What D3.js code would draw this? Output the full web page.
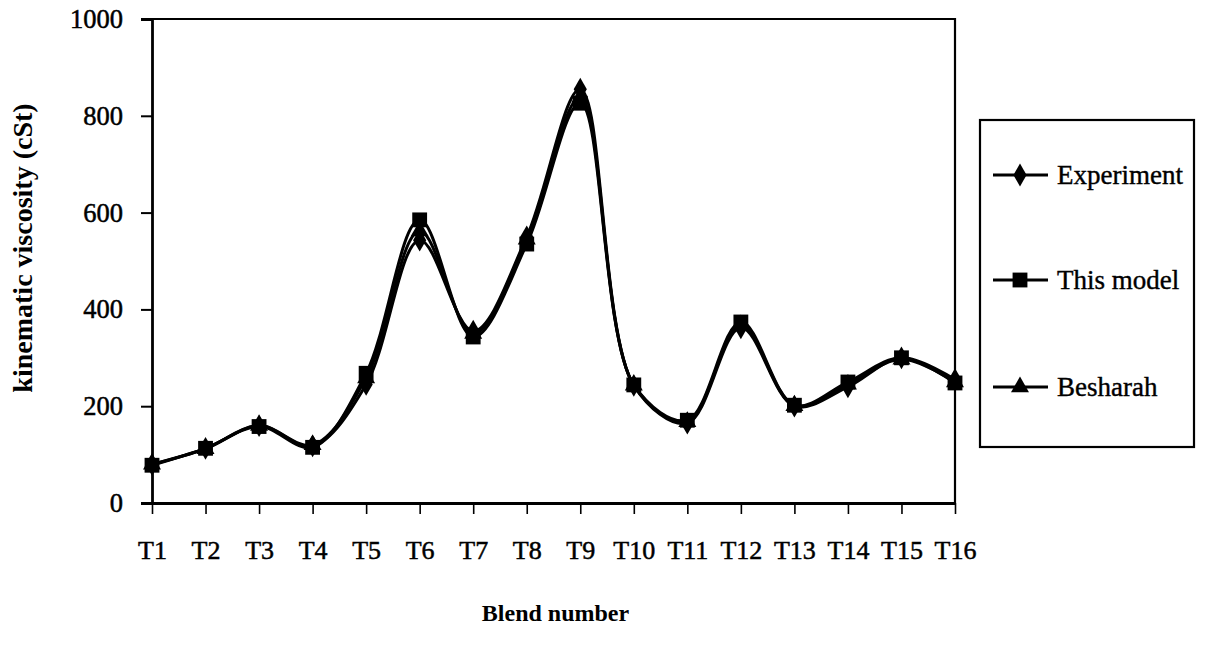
<!DOCTYPE html>
<html><head><meta charset="utf-8">
<script src="https://cdn.jsdelivr.net/npm/d3@7"></script>
<style>
body{margin:0;background:#fff;}
svg{display:block;}
text{font-family:"Liberation Serif","Times New Roman",serif;fill:#000;}
</style></head>
<body><svg id="c" width="1208" height="661"></svg>
<script>
const categories = ["T1","T2","T3","T4","T5","T6","T7","T8","T9","T10","T11","T12","T13","T14","T15","T16"];
const experiment = [80,113,160,118,245,543,355,550,855,243,165,362,200,240,300,255];
const thisModel  = [78,113,158,115,268,585,343,535,826,244,171,374,202,250,300,248];
const besharah   = [80,112,160,120,258,562,350,545,838,243,168,368,201,245,297,250];
const yTicks = [0,200,400,600,800,1000];
const seriesNames = ["Experiment","This model","Besharah"];

const svg = d3.select("#c");
const x0 = 152, x1 = 955, yTop = 19, yBot = 503;
const x = d3.scalePoint().domain(categories).range([x0, x1]);
const y = d3.scaleLinear().domain([0,1000]).range([yBot, yTop]);

// plot frame (top and right)
svg.append("path").attr("d", `M${x0},${yTop}H${x1}V${yBot}`).attr("fill","none").attr("stroke","#000").attr("stroke-width",2.2);

// Y axis
const yAxis = svg.append("g").attr("transform",`translate(${x0},0)`)
  .call(d3.axisLeft(y).tickValues(yTicks).tickSize(11).tickPadding(18).tickFormat(d3.format("d")));
yAxis.select(".domain").attr("stroke-width",2.8);
yAxis.selectAll(".tick line").attr("stroke-width",2);
yAxis.selectAll("text").attr("font-size",26.5).attr("font-family","Liberation Serif")
  .attr("stroke","#000").attr("stroke-width",0.5);

// X axis
const xAxis = svg.append("g").attr("transform",`translate(0,${yBot})`)
  .call(d3.axisBottom(x).tickSize(11).tickPadding(27).tickSizeOuter(0));
xAxis.select(".domain").attr("stroke-width",2.8);
xAxis.selectAll(".tick line").attr("stroke-width",1.6);
xAxis.selectAll("text").attr("font-size",26).attr("font-family","Liberation Serif")
  .attr("stroke","#000").attr("stroke-width",0.5);

// titles
svg.append("text").attr("x",(x0+x1)/2+2).attr("y",621).attr("text-anchor","middle")
  .attr("font-size",24).attr("font-weight","bold").text("Blend number");
svg.append("text").attr("transform",`translate(32,${248}) rotate(-90)`).attr("text-anchor","middle")
  .attr("font-size",28).attr("font-weight","bold").text("kinematic viscosity (cSt)");

const line = d3.line().x((d,i)=>x(categories[i])).y(d=>y(d)).curve(d3.curveCatmullRom.alpha(0.5));
const sym = [d3.symbolDiamond, d3.symbolSquare, d3.symbolTriangle];
const symSize = [150, 220, 140];
const allSeries = [experiment, thisModel, besharah];

allSeries.forEach((vals, s) => {
  svg.append("path").datum(vals).attr("d", line).attr("fill","none").attr("stroke","#000").attr("stroke-width",3);
  svg.append("g").selectAll("path").data(vals).join("path")
    .attr("transform",(d,i)=>`translate(${x(categories[i])},${y(d)})`)
    .attr("d", d3.symbol().type(sym[s]).size(symSize[s])).attr("fill","#000");
});

// legend
const lg = svg.append("g");
lg.append("rect").attr("x",980).attr("y",120).attr("width",214).attr("height",327)
  .attr("fill","#fff").attr("stroke","#000").attr("stroke-width",2.2);
const legY = [175, 280, 387];
seriesNames.forEach((n,s)=>{
  lg.append("line").attr("x1",993).attr("x2",1048).attr("y1",legY[s]).attr("y2",legY[s]).attr("stroke","#000").attr("stroke-width",3);
  lg.append("path").attr("transform",`translate(1020,${legY[s]})`).attr("d", d3.symbol().type(sym[s]).size(symSize[s])).attr("fill","#000");
  lg.append("text").attr("x",1057).attr("y",legY[s]+9).attr("font-size",27)
    .attr("stroke","#000").attr("stroke-width",0.4).text(n);
});
</script></body></html>
